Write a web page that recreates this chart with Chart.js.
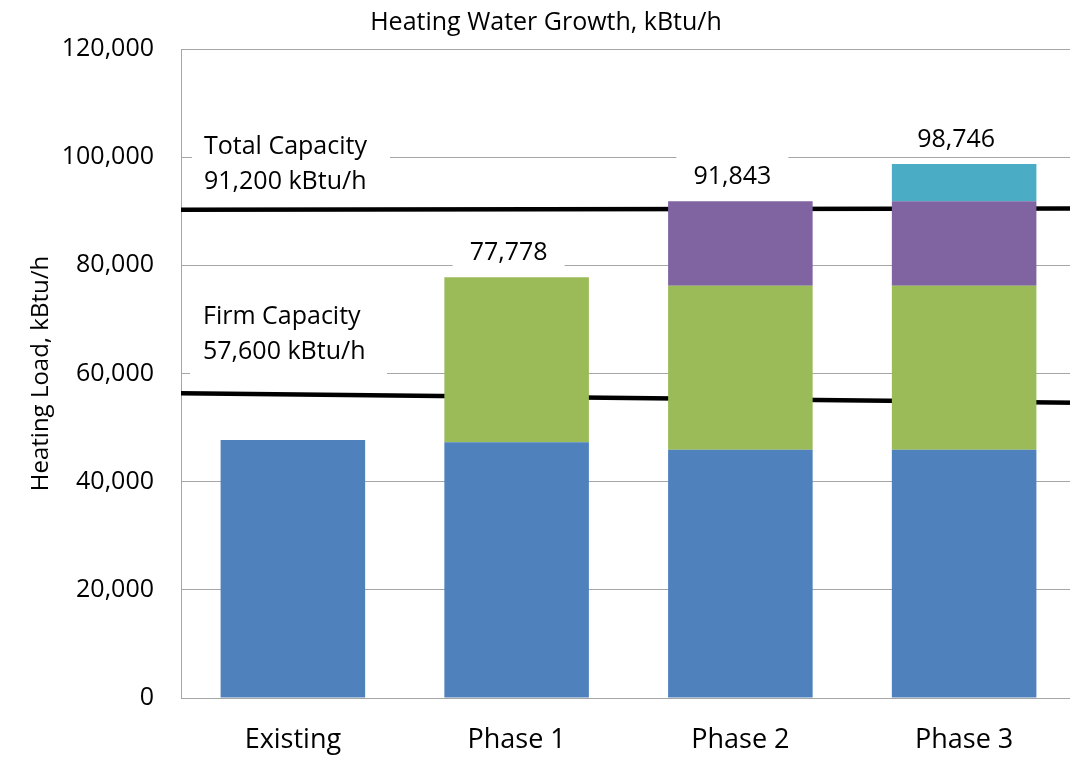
<!DOCTYPE html>
<html>
<head>
<meta charset="utf-8">
<title>Heating Water Growth</title>
<script src="https://cdn.jsdelivr.net/npm/chart.js@4/dist/chart.umd.min.js"></script>
<style>
  html, body { margin: 0; padding: 0; background: #fff; overflow: hidden; }
  #wrap { width: 1080px; height: 763px; }
</style>
</head>
<body>
<div id="wrap"><canvas id="chart" width="1080" height="763"></canvas></div>
<script>
const CATEGORIES = ["Existing", "Phase 1", "Phase 2", "Phase 3"];

// stacked load per category, kBtu/h
const EXISTING_LOAD = [47700, 47280, 45900, 45900];
const PHASE1_GROWTH = [null, 30498, 30340, 30340];
const PHASE2_GROWTH = [null, null, 15603, 15603];
const PHASE3_GROWTH = [null, null, null, 6903];
const TOTAL_LABELS = [null, 77778, 91843, 98746];

// capacity lines (value at left edge, value at right edge)
const FIRM_LINE = [56350, 54600];
const TOTAL_LINE = [90300, 90500];

const Y_TICKS = [0, 20000, 40000, 60000, 80000, 100000, 120000];

const FONT = "'Open Sans', 'Noto Sans', sans-serif";
const GRID = "#a6a6a6";

function fmt(v) {
  return v.toLocaleString("en-US");
}

function lineData(values) {
  return [
    { x: 0, y: values[0] },
    { x: CATEGORIES.length, y: values[1] },
  ];
}

// white box over the gridlines, then the text
function drawNote(ctx, box, lines) {
  ctx.save();
  ctx.fillStyle = "#fff";
  ctx.fillRect(box.x, box.y, box.w, box.h);
  ctx.fillStyle = "#000";
  ctx.font = "25px " + FONT;
  ctx.textAlign = "left";
  ctx.textBaseline = "middle";
  lines.forEach((l) => ctx.fillText(l.text, box.tx, l.y));
  ctx.restore();
}

function labelPos(chart, i) {
  let meta = chart.getDatasetMeta(0);
  return {
    x: meta.data[i].x - 8,
    y: chart.scales.y.getPixelForValue(TOTAL_LABELS[i]) - 24,
  };
}

const notesPlugin = {
  id: "notes",
  beforeDatasetsDraw(chart) {
    let ctx = chart.ctx;

    drawNote(ctx, { x: 192, y: 127, w: 198, h: 75, tx: 204 }, [
      { text: "Total Capacity", y: 147 },
      { text: fmt(91200) + " kBtu/h", y: 182 },
    ]);
    drawNote(ctx, { x: 190, y: 297, w: 197, h: 84, tx: 203 }, [
      { text: "Firm Capacity", y: 317 },
      { text: fmt(57600) + " kBtu/h", y: 352 },
    ]);

    // label boxes above the stacks
    ctx.save();
    ctx.fillStyle = "#fff";
    TOTAL_LABELS.forEach((v, i) => {
      if (v == null) return;
      let p = labelPos(chart, i);
      ctx.fillRect(p.x - 56, p.y - 22, 112, 38);
    });
    ctx.restore();
  },
  afterDatasetsDraw(chart) {
    let ctx = chart.ctx;
    ctx.save();
    ctx.fillStyle = "#000";
    ctx.font = "25px " + FONT;
    ctx.textAlign = "center";
    ctx.textBaseline = "middle";
    TOTAL_LABELS.forEach((v, i) => {
      if (v == null) return;
      let p = labelPos(chart, i);
      ctx.fillText(fmt(v), p.x, p.y);
    });
    ctx.restore();
  },
};

function barSet(label, data, color) {
  return {
    type: "bar",
    label: label,
    data: data,
    stack: "load",
    grouped: false,
    backgroundColor: color,
    borderWidth: 0,
    categoryPercentage: 1,
    barPercentage: 0.646,
    order: 0,
  };
}

function capLine(label, values) {
  return {
    type: "line",
    label: label,
    data: lineData(values),
    xAxisID: "xl",
    stack: label,
    borderColor: "#000",
    borderWidth: 4.5,
    pointRadius: 0,
    fill: false,
    order: 1,
  };
}

const ctx = document.getElementById("chart");
Chart.defaults.font.family = FONT;
Chart.defaults.color = "#000";

new Chart(ctx, {
  data: {
    labels: CATEGORIES,
    datasets: [
      barSet("Existing", EXISTING_LOAD, "#4F81BD"),
      barSet("Phase 1", PHASE1_GROWTH, "#9BBB59"),
      barSet("Phase 2", PHASE2_GROWTH, "#8064A2"),
      barSet("Phase 3", PHASE3_GROWTH, "#4BACC6"),
      capLine("Firm Capacity", FIRM_LINE),
      capLine("Total Capacity", TOTAL_LINE),
    ],
  },
  options: {
    responsive: false,
    animation: false,
    layout: { padding: { left: 16, right: 4, top: 0, bottom: 0 } },
    plugins: {
      legend: { display: false },
      tooltip: { enabled: false },
      title: {
        display: true,
        text: "Heating Water Growth, kBtu/h",
        font: { size: 25, weight: "normal" },
        color: "#000",
        padding: { top: 8, bottom: 11 },
      },
    },
    scales: {
      x: {
        stacked: true,
        grid: { display: false, drawTicks: false },
        border: { display: true, color: GRID, width: 1 },
        ticks: { font: { size: 27 }, padding: 26, color: "#000" },
        afterFit(scale) {
          scale.height = 65;
        },
      },
      xl: {
        type: "linear",
        display: false,
        min: 0,
        max: CATEGORIES.length,
      },
      y: {
        stacked: true,
        min: 0,
        max: 120000,
        grid: { color: GRID, lineWidth: 1, drawTicks: false },
        border: { display: true, color: GRID, width: 1 },
        afterBuildTicks(scale) {
          scale.ticks = Y_TICKS.map((v) => ({ value: v }));
        },
        ticks: {
          font: { size: 25 },
          padding: 27,
          color: "#000",
          callback: (v) => fmt(v),
        },
        title: {
          display: true,
          text: "Heating Load, kBtu/h",
          font: { size: 24 },
          color: "#000",
          padding: { top: 11, bottom: 0 },
        },
        afterFit(scale) {
          scale.width = 165;
        },
      },
    },
  },
  plugins: [notesPlugin],
});
</script>
</body>
</html>
